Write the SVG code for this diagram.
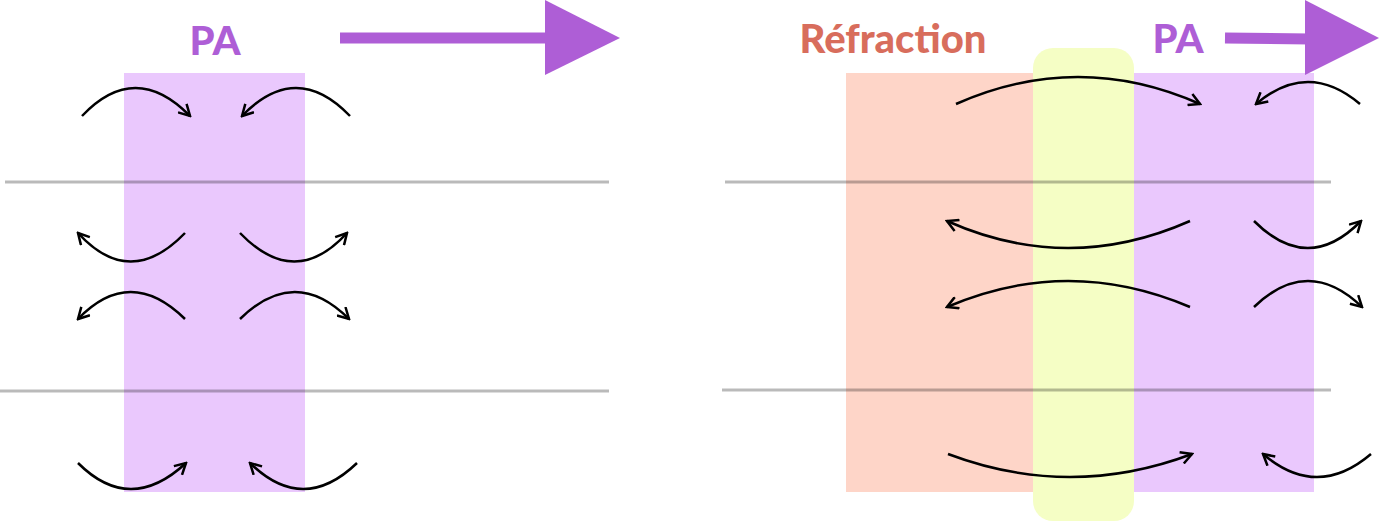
<svg xmlns="http://www.w3.org/2000/svg" width="1379" height="521" viewBox="0 0 1379 521">
<style>
.t{font-family:"Lato","Noto Sans",sans-serif;font-weight:900;font-size:40px;text-anchor:middle}
.g{stroke:#000;stroke-opacity:0.27;stroke-width:3}
.a{fill:none;stroke:#000;stroke-width:2.5;marker-end:url(#m)}
</style>
<defs><marker id="m" markerWidth="14" markerHeight="14" refX="12" refY="7" orient="auto" markerUnits="userSpaceOnUse" viewBox="0 0 14 14"><path d="M1,1 L12,7 L1,13" fill="none" stroke="#000" stroke-width="2.5"/></marker></defs>
<g id="left">
<rect x="124" y="73" width="181" height="419" fill="#eac8fd"/>
<text class="t" x="215" y="55" fill="#ae5ed6">PA</text>
<path d="M340,38 H550" stroke="#ae5ed6" stroke-width="11"/>
<polygon points="545,0 620,38 545,75" fill="#ae5ed6"/>
</g>
<g id="right">
<rect x="846" y="73" width="189" height="419" fill="#fed5c8"/>
<rect x="1133" y="73" width="181" height="419" fill="#eac8fd"/>
<rect x="1033" y="48" width="101" height="473" rx="20" fill="#f5fec5"/>
<text class="t" x="893" y="53" fill="#d86d5c">Réfraction</text>
<text class="t" x="1178" y="53" fill="#ae5ed6">PA</text>
<path d="M1225,38 L1310,39" stroke="#ae5ed6" stroke-width="11"/>
<polygon points="1305,0 1379,38 1305,75" fill="#ae5ed6"/>
</g>
<g id="lines">
<path class="g" d="M5,182 H609 M0,391 H609 M725,182 H1331 M722,390 H1331"/>
</g>
<g id="connectors">
<path class="a" d="M82,116 Q135,60 190,116"/>
<path class="a" d="M350,116 Q296,60 242,116"/>
<path class="a" d="M185,233 Q130,290 78,233"/>
<path class="a" d="M240,233 Q295,290 347,233"/>
<path class="a" d="M185,319 Q130,265 78,319"/>
<path class="a" d="M240,319 Q295,265 349,319"/>
<path class="a" d="M78,463 Q130,515 186,463"/>
<path class="a" d="M357,463 Q303,515 250,463"/>
<path class="a" d="M956,104 Q1078,50 1200,104"/>
<path class="a" d="M1360,104 Q1308,60 1256,104"/>
<path class="a" d="M1190,221 Q1068,275 947,221"/>
<path class="a" d="M1254,221 Q1308,275 1361,221"/>
<path class="a" d="M1190,307 Q1068,255 947,307"/>
<path class="a" d="M1254,307 Q1308,255 1362,307"/>
<path class="a" d="M948,454 Q1070,500 1192,454"/>
<path class="a" d="M1371,454 Q1317,500 1263,454"/>
</g>
</svg>
